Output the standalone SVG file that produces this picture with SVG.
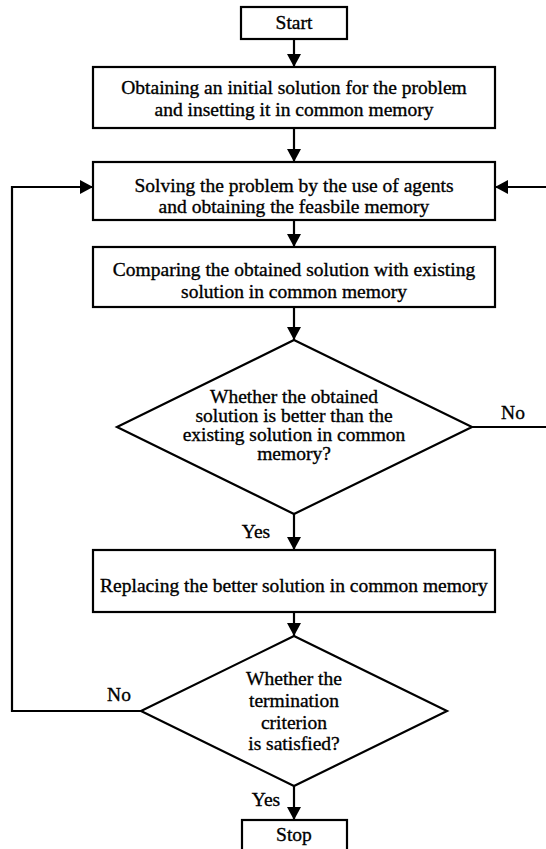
<svg xmlns="http://www.w3.org/2000/svg" width="546" height="849" viewBox="0 0 546 849">
  <style>
    .shape { fill: #ffffff; stroke: #000000; stroke-width: 2.2; }
    .wire { fill: none; stroke: #000000; stroke-width: 2.2; }
    .t { font-family: 'Liberation Serif', 'Times New Roman', serif; font-size: 19.5px; fill: #000000; stroke: #000000; stroke-width: 0.35; text-anchor: middle; }
  </style>
  <defs>
    <marker id="arrow" markerUnits="userSpaceOnUse" markerWidth="14" markerHeight="14" refX="13" refY="7" orient="auto">
      <path d="M0,0 L13,7 L0,14 z" fill="#000000"/>
    </marker>
  </defs>
  <rect width="546" height="849" fill="#ffffff"/>

  <!-- connectors -->
  <g id="connectors">
    <path class="wire" d="M294,39 V67" marker-end="url(#arrow)"/>
    <path class="wire" d="M294,128 V162" marker-end="url(#arrow)"/>
    <path class="wire" d="M294,220 V247" marker-end="url(#arrow)"/>
    <path class="wire" d="M294,307 V340" marker-end="url(#arrow)"/>
    <path class="wire" d="M294,514 V550" marker-end="url(#arrow)"/>
    <path class="wire" d="M294,612 V636" marker-end="url(#arrow)"/>
    <path class="wire" d="M294,786 V820" marker-end="url(#arrow)"/>
    <!-- "No" branch of the first decision leaves to the right -->
    <path class="wire" d="M472,427 H546"/>
    <!-- return into the agents step from the right -->
    <path class="wire" d="M546,187 H495" marker-end="url(#arrow)"/>
    <!-- "No" branch of the termination test loops back -->
    <path class="wire" d="M141,711 H12 V187 H93" marker-end="url(#arrow)"/>
    <text class="t" x="513" y="419">No</text>
    <text class="t" x="256" y="538">Yes</text>
    <text class="t" x="119" y="701">No</text>
    <text class="t" x="266" y="806">Yes</text>
  </g>

  <g id="start">
    <rect class="shape" x="241" y="7" width="106" height="32"/>
    <text class="t" x="294" y="29">Start</text>
  </g>

  <g id="init">
    <rect class="shape" x="93" y="67" width="402" height="61"/>
    <text class="t" x="294" y="94">Obtaining an initial solution for the problem</text>
    <text class="t" x="294" y="116">and insetting it in common memory</text>
  </g>

  <g id="agents">
    <rect class="shape" x="93" y="162" width="402" height="58"/>
    <text class="t" x="294" y="192">Solving the problem by the use of agents</text>
    <text class="t" x="294" y="213">and obtaining the feasbile memory</text>
  </g>

  <g id="compare">
    <rect class="shape" x="93" y="247" width="402" height="60"/>
    <text class="t" x="294" y="276">Comparing the obtained solution with existing</text>
    <text class="t" x="294" y="298">solution in common memory</text>
  </g>

  <g id="better">
    <polygon class="shape" points="294,340 472,427 294,514 117,427"/>
    <text class="t" x="294" y="403">Whether the obtained</text>
    <text class="t" x="294" y="422">solution is better than the</text>
    <text class="t" x="294" y="441">existing solution in common</text>
    <text class="t" x="294" y="460">memory?</text>
  </g>

  <g id="replace">
    <rect class="shape" x="93" y="550" width="402" height="62"/>
    <text class="t" x="294" y="592">Replacing the better solution in common memory</text>
  </g>

  <g id="termination">
    <polygon class="shape" points="294,636 447,711 294,786 141,711"/>
    <text class="t" x="294" y="685">Whether the</text>
    <text class="t" x="294" y="707">termination</text>
    <text class="t" x="294" y="729">criterion</text>
    <text class="t" x="294" y="750">is satisfied?</text>
  </g>

  <g id="stop">
    <rect class="shape" x="242" y="820" width="105" height="40"/>
    <text class="t" x="294" y="841">Stop</text>
  </g>
</svg>
